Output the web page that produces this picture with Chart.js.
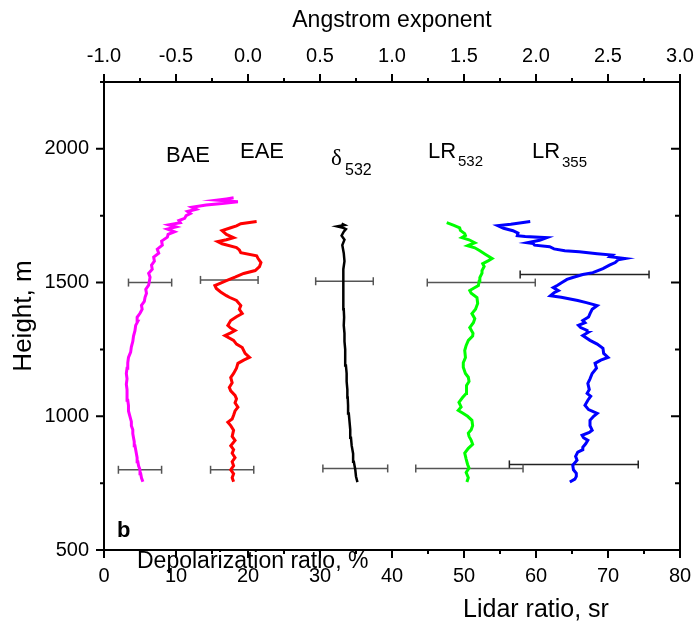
<!DOCTYPE html>
<html>
<head>
<meta charset="utf-8">
<script src="https://cdn.jsdelivr.net/npm/chart.js@4.4.1/dist/chart.umd.min.js"></script>
<style>
  body { margin: 0; background: #fff; }
  canvas { display: block; }
</style>
</head>
<body>
<canvas id="chart" width="698" height="627"></canvas>
<script>
// profiles: [height m, value]
// BAE / EAE on Angstrom exponent axis (top), delta on depolarization %, LR on lidar ratio sr
const baeProfile = [
  [755,-0.73],[770,-0.74],[785,-0.745],[800,-0.75],[815,-0.76],[830,-0.765],[845,-0.77],[860,-0.775],
  [875,-0.78],[890,-0.785],[905,-0.79],[920,-0.795],[935,-0.80],[950,-0.80],[965,-0.81],[980,-0.81],
  [1000,-0.82],[1020,-0.83],[1040,-0.83],[1060,-0.835],[1080,-0.84],[1100,-0.84],[1120,-0.845],[1140,-0.84],
  [1160,-0.845],[1180,-0.84],[1200,-0.835],[1220,-0.83],[1240,-0.815],[1260,-0.81],[1280,-0.80],[1300,-0.795],
  [1320,-0.785],[1340,-0.78],[1355,-0.765],[1370,-0.77],[1385,-0.75],[1400,-0.735],[1415,-0.74],[1430,-0.72],
  [1445,-0.715],[1460,-0.705],[1475,-0.71],[1490,-0.69],[1505,-0.685],[1520,-0.68],[1535,-0.69],[1550,-0.665],
  [1565,-0.67],[1580,-0.65],[1595,-0.655],[1610,-0.62],[1625,-0.63],[1640,-0.595],[1655,-0.60],[1670,-0.56],
  [1680,-0.555],[1690,-0.51],[1700,-0.56],[1708,-0.50],[1716,-0.55],[1724,-0.47],[1732,-0.48],[1740,-0.44],
  [1750,-0.43],[1758,-0.40],[1766,-0.42],[1774,-0.36],[1782,-0.39],[1790,-0.29],[1796,-0.18],[1802,-0.07],
  [1808,-0.22],[1813,-0.15],[1817,-0.10]
];
const eaeProfile = [
  [755,-0.10],[770,-0.11],[785,-0.10],[800,-0.12],[815,-0.10],[830,-0.11],[845,-0.09],[862,-0.11],
  [875,-0.10],[890,-0.12],[910,-0.09],[925,-0.11],[948,-0.10],[965,-0.12],[978,-0.14],[990,-0.11],
  [1004,-0.10],[1020,-0.09],[1034,-0.07],[1050,-0.09],[1065,-0.08],[1078,-0.09],[1095,-0.12],[1108,-0.13],
  [1125,-0.11],[1145,-0.12],[1160,-0.10],[1180,-0.08],[1198,-0.07],[1210,-0.03],[1220,0.01],[1235,-0.02],
  [1257,-0.04],[1270,-0.08],[1284,-0.10],[1302,-0.16],[1312,-0.12],[1321,-0.09],[1330,-0.12],[1340,-0.14],
  [1358,-0.12],[1372,-0.08],[1384,-0.04],[1400,-0.06],[1414,-0.05],[1433,-0.08],[1445,-0.13],[1451,-0.15],
  [1465,-0.19],[1478,-0.22],[1489,-0.23],[1498,-0.19],[1507,-0.15],[1520,-0.09],[1534,-0.03],[1545,0.05],
  [1560,0.08],[1575,0.09],[1590,0.07],[1600,0.06],[1612,-0.05],[1622,-0.06],[1631,-0.08],[1645,-0.18],
  [1653,-0.21],[1660,-0.15],[1668,-0.10],[1680,-0.15],[1694,-0.18],[1705,-0.12],[1712,-0.08],[1720,-0.05],
  [1728,0.06]
];
const depolProfile = [
  [754,35.2],[775,35.0],[800,34.9],[830,34.7],[860,34.6],[890,34.4],[920,34.3],[950,34.2],
  [980,34.1],[1010,34.0],[1040,33.9],[1070,33.85],[1100,33.8],[1130,33.7],[1160,33.7],[1190,33.6],
  [1220,33.5],[1250,33.5],[1280,33.4],[1310,33.4],[1340,33.3],[1370,33.35],[1400,33.3],[1430,33.2],
  [1460,33.3],[1490,33.2],[1520,33.3],[1550,33.2],[1580,33.4],[1610,33.3],[1640,33.1],[1660,33.4],
  [1675,33.0],[1690,33.3],[1700,33.6],[1705,33.2],[1710,32.4],[1715,33.4],[1720,33.0]
];
const lr532Profile = [
  [754,50.4],[770,50.6],[790,50.3],[806,50.7],[820,50.5],[840,50.3],[862,50.1],[880,50.6],
  [895,51.2],[910,51.0],[925,50.7],[937,50.6],[950,51.0],[965,51.2],[985,51.1],[1000,50.5],
  [1012,49.8],[1022,49.2],[1035,49.6],[1052,49.3],[1070,49.8],[1085,50.3],[1097,50.4],[1115,50.3],
  [1130,50.7],[1146,50.6],[1160,50.2],[1183,49.9],[1200,49.9],[1220,50.2],[1246,50.1],[1265,50.3],
  [1284,50.6],[1300,51.2],[1310,51.25],[1332,50.8],[1350,51.3],[1365,51.5],[1384,51.1],[1400,51.6],
  [1422,51.9],[1444,51.8],[1460,51.0],[1470,50.8],[1480,51.4],[1489,52.0],[1505,52.1],[1519,52.2],
  [1535,52.5],[1545,52.5],[1560,52.8],[1571,52.6],[1582,53.4],[1590,53.9],[1605,53.0],[1619,52.2],
  [1630,51.5],[1638,50.5],[1649,51.5],[1660,50.7],[1668,49.7],[1676,50.2],[1683,50.1],[1695,49.5],
  [1705,49.4],[1714,48.6],[1724,47.6]
];
const lr355Profile = [
  [754,64.7],[765,65.4],[775,65.6],[787,65.6],[800,65.2],[817,65.1],[836,65.7],[850,65.5],
  [866,65.8],[875,66.5],[884,66.5],[897,66.9],[910,67.2],[920,66.6],[929,66.4],[940,67.4],
  [948,67.8],[965,67.5],[985,67.5],[1000,68.0],[1011,68.5],[1025,67.3],[1041,66.8],[1060,67.2],
  [1075,67.6],[1086,67.1],[1100,67.4],[1123,67.2],[1140,67.5],[1160,67.8],[1180,68.4],[1198,68.2],
  [1210,69.0],[1220,70.0],[1235,69.4],[1254,69.3],[1270,68.5],[1284,67.5],[1302,66.5],[1313,67.2],
  [1321,67.1],[1332,66.2],[1340,65.9],[1350,66.8],[1358,66.5],[1371,67.3],[1384,67.5],[1400,67.8],
  [1414,68.5],[1425,67.0],[1433,65.8],[1445,63.5],[1451,62.0],[1462,62.5],[1470,63.1],[1481,62.4],
  [1490,63.0],[1500,63.6],[1512,64.3],[1519,65.1],[1530,66.5],[1537,67.9],[1552,69.3],[1565,70.2],
  [1575,71.0],[1585,71.4],[1590,72.4],[1597,70.3],[1603,70.6],[1608,68.5],[1615,66.0],[1619,64.0],
  [1626,62.5],[1634,61.9],[1640,59.8],[1646,59.6],[1649,58.8],[1658,60.5],[1668,61.5],[1672,58.5],
  [1675,57.4],[1685,57.5],[1694,56.8],[1703,55.5],[1713,54.7],[1718,56.5],[1728,59.2]
];

// error bars: [height, low, high]
const baeErrors   = [[1500,-0.83,-0.53],[800,-0.90,-0.60]];
const eaeErrors   = [[1510,-0.33,0.07],[800,-0.26,0.04]];
const depolErrors = [[1505,29.4,37.4],[805,30.4,39.4]];
const lr532Errors = [[1500,44.9,59.9],[805,43.3,58.2]];
const lr355Errors = [[1530,57.8,75.7],[820,56.3,74.2]];

const heightTicks = [500, 1000, 1500, 2000];
const heightMinor = [750, 1250, 1750, 2250];
const lidarTicks = [0, 10, 20, 30, 40, 50, 60, 70, 80];
const lidarMinor = [5, 15, 25, 35, 45, 55, 65, 75];
const angTicks = [-1.0, -0.5, 0.0, 0.5, 1.0, 1.5, 2.0, 2.5, 3.0];
const angMinor = [-0.75, -0.25, 0.25, 0.75, 1.25, 1.75, 2.25, 2.75];

const FONT = "'Liberation Sans', Arial, sans-serif";

function profile(p) {
  return p.map(d => ({ x: d[1], y: d[0] }));
}

function lineSet(p, color, width, axis) {
  return {
    data: profile(p),
    xAxisID: axis,
    showLine: true,
    borderColor: color,
    borderWidth: width,
    pointRadius: 0,
    tension: 0,
    fill: false
  };
}

function errorSets(list, axis, color) {
  return list.map(e => ({
    data: [{ x: e[1], y: e[0] }, { x: e[2], y: e[0] }],
    xAxisID: axis,
    showLine: true,
    borderColor: color,
    borderWidth: 1.5,
    pointStyle: 'line',
    rotation: 90,
    pointRadius: 4,
    pointBorderColor: color,
    pointBorderWidth: 1.5
  }));
}

// ticks on all four sides: majors and minors
const frameTicks = {
  id: 'frameTicks',
  afterDraw(chart) {
    const ctx = chart.ctx;
    const a = chart.chartArea;
    const sx = chart.scales.x, sx2 = chart.scales.x2, sy = chart.scales.y;
    ctx.save();
    ctx.strokeStyle = '#000';
    ctx.lineWidth = 2;
    ctx.beginPath();
    lidarTicks.forEach(v => { const p = sx.getPixelForValue(v); ctx.moveTo(p, a.bottom); ctx.lineTo(p, a.bottom + 8); });
    lidarMinor.forEach(v => { const p = sx.getPixelForValue(v); ctx.moveTo(p, a.bottom); ctx.lineTo(p, a.bottom + 4); });
    angTicks.forEach(v => { const p = sx2.getPixelForValue(v); ctx.moveTo(p, a.top); ctx.lineTo(p, a.top - 8); });
    angMinor.forEach(v => { const p = sx2.getPixelForValue(v); ctx.moveTo(p, a.top); ctx.lineTo(p, a.top - 4); });
    heightTicks.forEach(v => {
      const p = sy.getPixelForValue(v);
      ctx.moveTo(a.left, p); ctx.lineTo(a.left - 8, p);
      ctx.moveTo(a.right, p); ctx.lineTo(a.right - 9, p);
    });
    heightMinor.forEach(v => {
      const p = sy.getPixelForValue(v);
      ctx.moveTo(a.left, p); ctx.lineTo(a.left - 4, p);
      ctx.moveTo(a.right, p); ctx.lineTo(a.right - 5, p);
    });
    ctx.stroke();
    ctx.restore();
  }
};

// in-plot labels and extra axis captions
const captions = {
  id: 'captions',
  afterDraw(chart) {
    const ctx = chart.ctx;
    ctx.save();
    ctx.fillStyle = '#000';
    ctx.textBaseline = 'alphabetic';
    ctx.textAlign = 'left';
    ctx.font = '22px ' + FONT;
    ctx.fillText('BAE', 166, 162);
    ctx.fillText('EAE', 240, 158);
    ctx.font = '23px "Liberation Serif", serif';
    ctx.fillText('δ', 331, 165);
    ctx.font = '16px ' + FONT;
    ctx.fillText('532', 345, 175);
    ctx.font = '22px ' + FONT;
    ctx.fillText('LR', 428, 158);
    ctx.fillText('LR', 532, 158);
    ctx.font = '15px ' + FONT;
    ctx.fillText('532', 458, 166);
    ctx.fillText('355', 562, 167);
    ctx.font = 'bold 22px ' + FONT;
    ctx.fillText('b', 117, 537);
    ctx.font = '23px ' + FONT;
    ctx.fillText('Depolarization ratio, %', 137, 568);
    ctx.font = '25px ' + FONT;
    ctx.textAlign = 'center';
    ctx.fillText('Lidar ratio, sr', 536, 617);
    ctx.restore();
  }
};

const tickFont = { family: FONT, size: 20 };
const titleFont = { family: FONT, size: 23 };

const datasets = [
  lineSet(baeProfile, '#ff00ff', 3, 'x2'),
  lineSet(eaeProfile, '#ff0000', 3, 'x2'),
  lineSet(depolProfile, '#000000', 2.5, 'x'),
  lineSet(lr532Profile, '#00ff00', 3, 'x'),
  lineSet(lr355Profile, '#0000ff', 3, 'x'),
  ...errorSets(baeErrors, 'x2', '#555'),
  ...errorSets(eaeErrors, 'x2', '#555'),
  ...errorSets(depolErrors, 'x', '#555'),
  ...errorSets(lr532Errors, 'x', '#555'),
  ...errorSets(lr355Errors, 'x', '#222')
];

function fixHorizontal(h) {
  return s => { s.height = h; s.paddingLeft = 0; s.paddingRight = 0; };
}
function fixVertical(w) {
  return s => { s.width = w; s.paddingTop = 0; s.paddingBottom = 0; };
}

new Chart(document.getElementById('chart'), {
  type: 'scatter',
  data: { datasets: datasets },
  options: {
    responsive: false,
    animation: false,
    devicePixelRatio: 1,
    layout: { padding: 0 },
    plugins: { legend: { display: false }, tooltip: { enabled: false } },
    scales: {
      x: {
        type: 'linear', position: 'bottom', min: 0, max: 80,
        afterBuildTicks: s => { s.ticks = lidarTicks.map(v => ({ value: v })); },
        afterFit: fixHorizontal(77),
        ticks: { font: tickFont, color: '#000', padding: 14, maxRotation: 0, callback: v => String(v) },
        grid: { drawOnChartArea: false, drawTicks: false },
        border: { color: '#000', width: 2 }
      },
      x2: {
        type: 'linear', position: 'top', min: -1, max: 3,
        afterBuildTicks: s => { s.ticks = angTicks.map(v => ({ value: v })); },
        afterFit: fixHorizontal(82),
        ticks: { font: tickFont, color: '#000', padding: 14, maxRotation: 0, callback: v => v.toFixed(1) },
        grid: { drawOnChartArea: false, drawTicks: false },
        border: { color: '#000', width: 2 },
        title: { display: true, text: 'Angstrom exponent', font: titleFont, color: '#000', padding: { top: 7, bottom: 0 } }
      },
      y: {
        type: 'linear', position: 'left', min: 500, max: 2250,
        afterBuildTicks: s => { s.ticks = heightTicks.map(v => ({ value: v })); },
        afterFit: fixVertical(104),
        ticks: { font: tickFont, color: '#000', padding: 15, callback: v => String(v) },
        grid: { drawOnChartArea: false, drawTicks: false },
        border: { color: '#000', width: 2 },
        title: { display: true, text: 'Height, m', font: { family: FONT, size: 26 }, color: '#000', padding: { top: 8, bottom: 10 } }
      },
      y2: {
        type: 'linear', position: 'right', min: 500, max: 2250,
        afterFit: fixVertical(18),
        ticks: { display: false },
        grid: { drawOnChartArea: false, drawTicks: false },
        border: { color: '#000', width: 2 }
      }
    }
  },
  plugins: [frameTicks, captions]
});
</script>
</body>
</html>
